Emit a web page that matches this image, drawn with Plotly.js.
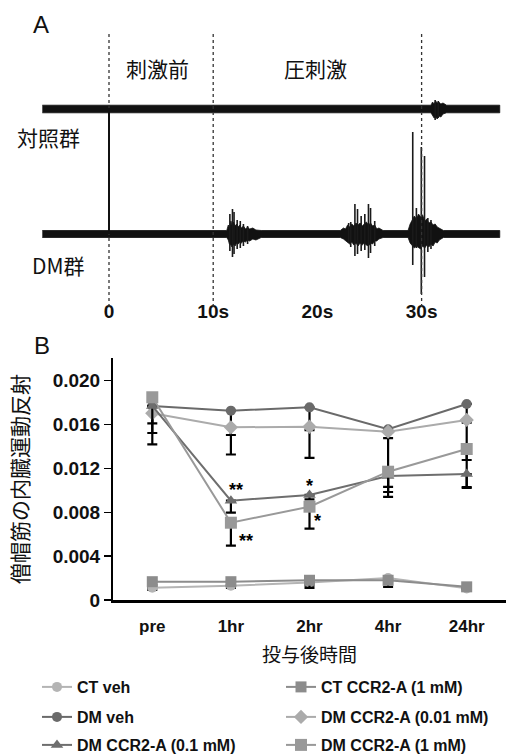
<!DOCTYPE html>
<html>
<head>
<meta charset="utf-8">
<script src="https://cdn.plot.ly/plotly-3.0.1.min.js"></script>
<style>html,body{margin:0;padding:0;background:#fff;}#chart{width:506px;height:754px;}</style>
</head>
<body>
<div id="chart"></div>
<script>
// ---------- Panel B data ----------
var categories = ['pre', '1hr', '2hr', '4hr', '24hr'];
var seriesNames = ['CT veh', 'CT CCR2-A (1 mM)', 'DM veh', 'DM CCR2-A (0.01 mM)', 'DM CCR2-A (0.1 mM)', 'DM CCR2-A (1 mM)'];
var ctVeh     = [0.00112, 0.00130, 0.00160, 0.00200, 0.00106];
var ctVehErr  = [0.0002, 0.0002, 0.0003, 0.0003, 0.0002];
var ctCcr     = [0.00167, 0.00167, 0.00180, 0.00180, 0.00120];
var ctCcrErr  = [0.0003, 0.0003, 0.0007, 0.0006, 0.0002];
var dmVeh     = [0.01769, 0.01727, 0.01757, 0.01557, 0.01788];
var dmVehErr  = [0.0035, 0.0040, 0.0046, 0.0008, 0.0017];
var dm001     = [0.01703, 0.01575, 0.01580, 0.01535, 0.01642];
var dm001Err  = [0.0018, 0.0007, 0.0003, 0.0055, 0.0062];
var dm01      = [0.01770, 0.00906, 0.00958, 0.01131, 0.01149];
var dm01Err   = [0.0016, 0.0011, 0.0004, 0.0010, 0.0012];
var dm1       = [0.01849, 0.00705, 0.00851, 0.01170, 0.01377];
var dm1Err    = [0.0004, 0.0021, 0.0020, 0.0023, 0.0010];
var yTickVals = [0, 0.004, 0.008, 0.012, 0.016, 0.020];
var yTickText = ['0', '0.004', '0.008', '0.012', '0.016', '0.020'];

// ---------- Panel A data (EMG traces, time in s, amplitude in arbitrary units) ----------
var timeTickVals = [0, 10, 20, 30];
var timeTickText = ['0', '10s', '20s', '30s'];
var stimMarks = [0, 10, 30];
// control trace envelope
var ctEnvT  = [-6.4, 30.9, 31.05, 31.2, 31.35, 31.5, 31.65, 31.85, 32.05, 32.4, 37.5];
var ctEnvUp = [3.8, 3.8, 7, 5, 8, 6, 7, 5, 6, 3.8, 3.8];
var ctEnvLo = [-3.8, -3.8, -6, -9, -8, -10, -7, -8, -5, -3.8, -3.8];
var ctSpikeT   = [31.3, 31.6];
var ctSpikeTop = [9, 8];
var ctSpikeBot = [-11, -9];
// DM trace envelope
var dmEnvT  = [-6.4, 11.3, 11.45, 11.55, 11.7, 11.8, 11.95, 12.1, 12.25, 12.4, 12.55, 12.7, 12.9, 13.1, 13.3, 13.5, 13.8, 14.1, 14.6,
               22.2, 22.5, 22.7, 22.9, 23.1, 23.3, 23.5, 23.7, 23.9, 24.1, 24.3, 24.5, 24.7, 24.9, 25.1, 25.3, 25.5, 25.7, 25.9, 26.3,
               28.7, 28.9, 29.1, 29.3, 29.5, 29.7, 29.9, 30.1, 30.3, 30.5, 30.7, 30.9, 31.1, 31.3, 31.5, 31.7, 32.1, 37.5];
var dmEnvUp = [3.5, 3.5, 9, 6, 13, 9, 12, 8, 10, 7, 9, 6, 8, 5, 7, 5, 6, 4, 3.5,
               3.5, 6, 5, 9, 7, 10, 8, 11, 9, 11, 8, 10, 12, 9, 11, 8, 9, 5, 6, 3.5,
               3.5, 10, 14, 18, 15, 20, 17, 19, 13, 15, 11, 12, 9, 10, 7, 6, 3.5, 3.5];
var dmEnvLo = [-3.5, -3.5, -6, -10, -11, -13, -10, -12, -9, -10, -8, -9, -7, -8, -6, -7, -5, -6, -3.5,
               -3.5, -5, -7, -8, -10, -8, -11, -9, -12, -9, -11, -9, -11, -12, -9, -10, -7, -7, -5, -3.5,
               -3.5, -9, -12, -14, -12, -13, -15, -12, -14, -11, -13, -10, -12, -8, -9, -6, -3.5, -3.5];
// DM individual large spikes
var dmSpikeT   = [11.6, 11.85, 12.0, 12.3, 12.6, 12.9, 13.3, 23.0, 23.2, 23.6, 23.85, 24.2, 24.55, 24.9, 25.1, 25.5, 29.15, 29.5, 29.97, 30.28, 30.6, 30.9];
var dmSpikeTop = [20, 25, 22, 14, 13, 10, 8, 11, 12, 30, 25, 18, 20, 30, 26, 13, 102, 26, 87, 78, 16, 14];
var dmSpikeBot = [-17, -23, -20, -15, -14, -12, -10, -9, -13, -22, -20, -17, -16, -24, -19, -12, -31, -14, -60, -43, -18, -15];

function band(t, up, lo) {
  return { x: t.concat(t.slice().reverse()), y: up.concat(lo.slice().reverse()) };
}
function spikes(t, top, bot) {
  var x = [], y = [];
  for (var i = 0; i < t.length; i++) { x.push(t[i], t[i], null); y.push(top[i], bot[i], null); }
  return { x: x, y: y };
}

var H = 754, W = 506;
function py(px) { return 1 - px / H; }

var cjk = '"Noto Sans CJK JP", "Noto Sans", sans-serif';
var lat = '"Liberation Sans", Arial, sans-serif';

var ctBand = band(ctEnvT, ctEnvUp, ctEnvLo);
var dmBand = band(dmEnvT, dmEnvUp, dmEnvLo);
var ctSp = spikes(ctSpikeT, ctSpikeTop, ctSpikeBot);
var dmSp = spikes(dmSpikeT, dmSpikeTop, dmSpikeBot);

var traces = [];
function series(name, y, err, color, symbol, size, legendId) {
  return {
    type: 'scatter', mode: 'lines+markers', name: name,
    x: categories, y: y, xaxis: 'x', yaxis: 'y',
    legend: legendId,
    line: { color: color, width: 2 },
    marker: { color: color, symbol: symbol, size: size },
    error_y: { type: 'data', symmetric: false, array: y.map(function () { return 0; }), arrayminus: err,
               color: '#000', thickness: 2.2, width: 5 }
  };
}
traces.push(series(seriesNames[0], ctVeh, ctVehErr, '#b4b4b4', 'circle', 10, 'legend'));
traces.push(series(seriesNames[1], ctCcr, ctCcrErr, '#8c8c8c', 'square', 11, 'legend'));
traces.push(series(seriesNames[2], dmVeh, dmVehErr, '#6a6a6a', 'circle', 10, 'legend2'));
traces.push(series(seriesNames[3], dm001, dm001Err, '#ababab', 'diamond', 11, 'legend2'));
traces.push(series(seriesNames[4], dm01, dm01Err, '#6e6e6e', 'triangle-up', 11, 'legend3'));
traces.push(series(seriesNames[5], dm1, dm1Err, '#999999', 'square', 12, 'legend3'));

function bandTrace(b, yax) {
  return { type: 'scatter', mode: 'lines', x: b.x, y: b.y, xaxis: 'x2', yaxis: yax,
    fill: 'toself', fillcolor: '#111', line: { color: '#111', width: 0.8 }, showlegend: false, hoverinfo: 'skip' };
}
function spikeTrace(s, yax) {
  return { type: 'scatter', mode: 'lines', x: s.x, y: s.y, xaxis: 'x2', yaxis: yax,
    line: { color: '#1a1a1a', width: 1.6 }, showlegend: false, hoverinfo: 'skip', connectgaps: false };
}
traces.push(bandTrace(ctBand, 'y2'));
traces.push(spikeTrace(ctSp, 'y2'));
traces.push(bandTrace(dmBand, 'y3'));
traces.push(spikeTrace(dmSp, 'y3'));

var shapes = stimMarks.map(function (t) {
  return { type: 'line', xref: 'x2', yref: 'paper', x0: t, x1: t, y0: py(307), y1: py(33),
           line: { color: '#333', width: 1.3, dash: 'dot' } };
});
shapes.push({ type: 'line', xref: 'x2', yref: 'paper', x0: stimMarks[0], x1: stimMarks[0], y0: py(234), y1: py(108),
              line: { color: '#111', width: 2 } });

function ann(text, x, y, size, family, extra) {
  var a = { text: text, xref: 'paper', yref: 'paper', x: x / W, y: py(y), showarrow: false,
            font: { size: size, family: family, color: '#111' }, xanchor: 'center', yanchor: 'middle' };
  for (var k in extra) a[k] = extra[k];
  return a;
}
var annotations = [
  ann('A', 41, 24, 24, lat),
  ann('B', 42, 345, 24, lat),
  ann('刺激前', 157, 68, 21, cjk),
  ann('圧刺激', 315, 68, 21, cjk),
  ann('対照群', 15, 137, 21, cjk, { xanchor: 'left' }),
  ann('DM群', 30, 265, 21, cjk, { xanchor: 'left' })
];
function star(text, idx, yv, dx, dy) {
  return { text: text, xref: 'x', yref: 'y', x: categories[idx], y: yv, showarrow: false,
           xshift: dx, yshift: dy, font: { size: 18, family: lat, color: '#000', weight: 700 } };
}
annotations.push(star('**', 1, dm01[1], 5, 11));
annotations.push(star('**', 1, dm1[1], 15, -18));
annotations.push(star('*', 2, dm01[2], 0, 9));
annotations.push(star('*', 2, dm1[2], 8, -14));

function legendCfg(yPx) {
  return { orientation: 'h', x: 37 / W, xanchor: 'left', y: py(yPx), yanchor: 'middle',
           entrywidth: 199, entrywidthmode: 'pixels', bgcolor: 'rgba(0,0,0,0)',
           font: { size: 16, family: lat, color: '#111', weight: 700 }, traceorder: 'normal' };
}

var layout = {
  width: W, height: H,
  margin: { l: 0, r: 0, t: 0, b: 0, autoexpand: false },
  paper_bgcolor: '#fff', plot_bgcolor: '#fff',
  showlegend: true,
  legend: legendCfg(687), legend2: legendCfg(717), legend3: legendCfg(745),
  xaxis: {
    domain: [113 / W, 1], type: 'category', range: [-0.5, 4.5],
    showline: true, linecolor: '#000', linewidth: 2.5, ticks: '', showgrid: false, zeroline: false,
    tickfont: { size: 17, family: lat, color: '#111', weight: 700 }, ticklabelstandoff: 9,
    title: { text: '投与後時間', font: { size: 19, family: cjk, color: '#111' }, standoff: 14 }
  },
  yaxis: {
    domain: [py(600), py(358)], range: [0, 0.02207],
    showline: true, linecolor: '#000', linewidth: 2, ticks: 'outside', ticklen: 7, tickwidth: 1.5, tickcolor: '#000',
    tickvals: yTickVals, ticktext: yTickText, showgrid: false, zeroline: false,
    tickfont: { size: 19, family: lat, color: '#111', weight: 700 },
    title: { text: '僧帽筋の内臓運動反射', font: { size: 21, family: cjk, color: '#111' }, standoff: 18 }
  },
  xaxis2: {
    domain: [0, 1], range: [-109 / 10.42, 397 / 10.42], anchor: 'y3',
    showline: false, ticks: '', showgrid: false, zeroline: false,
    tickvals: timeTickVals, ticktext: timeTickText,
    tickfont: { size: 19, family: lat, color: '#111', weight: 700 }
  },
  yaxis2: { domain: [py(128), py(90)], range: [-19, 19], anchor: 'x2', visible: false },
  yaxis3: { domain: [py(298), py(126)], range: [-64, 108], anchor: 'x2', visible: false },
  shapes: shapes,
  annotations: annotations
};

Plotly.newPlot('chart', traces, layout, { staticPlot: true, displayModeBar: false });
</script>
</body>
</html>
